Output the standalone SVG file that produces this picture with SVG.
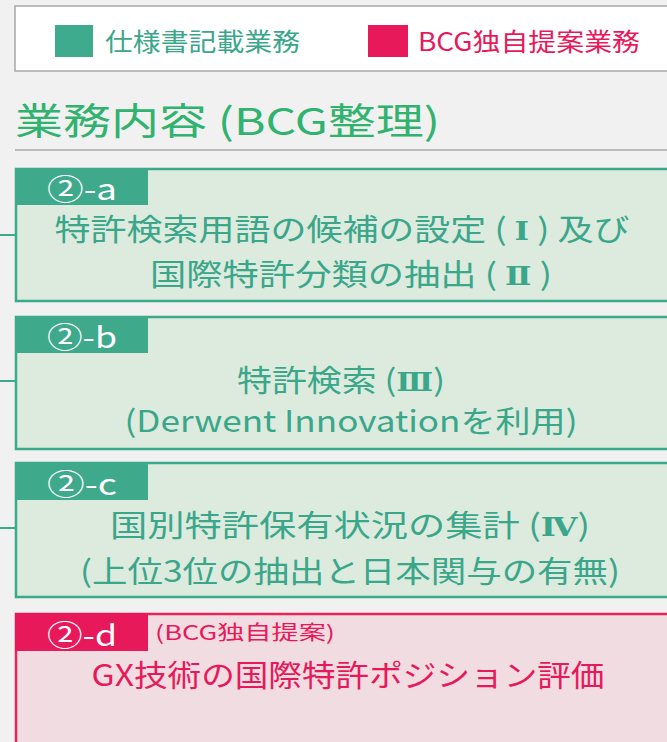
<svg xmlns="http://www.w3.org/2000/svg" width="667" height="742" viewBox="0 0 667 742">
<style>
text{font-family:"Noto Sans CJK JP","Noto Sans",sans-serif;}
.teal{fill:#3aa68a;}
.red{fill:#e8195a;}
.gbox{fill:#dcebde;stroke:#3aaa8a;stroke-width:2.5;}
.rbox{fill:#f1dce2;stroke:#e8245a;stroke-width:2.5;}
.gtab{fill:#3fa98c;}
.rtab{fill:#e8195a;}
.tab{fill:#ffffff;font-size:29px;}
.body{font-size:30px;text-anchor:middle;}
.num{font-family:"DejaVu Serif",serif;font-weight:bold;font-size:26px;}
.conn{stroke:#3aaa8a;stroke-width:2;fill:none;}
</style>
<rect x="0" y="0" width="667" height="742" fill="#f1f1f1"/>
<g id="legend">
<rect x="15" y="6" width="660" height="65" fill="#ffffff" stroke="#a8a8a8" stroke-width="1.5"/>
<rect x="55" y="25" width="38" height="32" fill="#3fab8e"/>
<text x="105" y="51" class="teal" font-size="25" textLength="195" lengthAdjust="spacingAndGlyphs">仕様書記載業務</text>
<rect x="368" y="25" width="40" height="32" fill="#e8195a"/>
<text x="418" y="51" class="red" font-size="25" textLength="222" lengthAdjust="spacingAndGlyphs">BCG独自提案業務</text>
</g>
<g id="title">
<text x="15" y="135" fill="#2fb36e" font-size="37" textLength="425" lengthAdjust="spacingAndGlyphs">業務内容 (BCG整理)</text>
<line x1="15" y1="150" x2="667" y2="150" stroke="#a8a8a8" stroke-width="1.5"/>
</g>
<g id="connectors">
<line class="conn" x1="0" y1="235" x2="15" y2="235"/>
<line class="conn" x1="0" y1="381" x2="15" y2="381"/>
<line class="conn" x1="0" y1="528" x2="15" y2="528"/>
</g>
<g id="node-a">
<rect class="gbox" x="16" y="169" width="660" height="132"/>
<rect class="gtab" x="15" y="168" width="133" height="37"/>
<text class="tab" x="47" y="200" textLength="70" lengthAdjust="spacingAndGlyphs">②-a</text>
<text class="body teal" x="342" y="240" textLength="575" lengthAdjust="spacingAndGlyphs">特許検索用語の候補の設定 ( <tspan class="num">Ⅰ</tspan> ) 及び</text>
<text class="body teal" x="351" y="285" textLength="402" lengthAdjust="spacingAndGlyphs">国際特許分類の抽出 ( <tspan class="num">Ⅱ</tspan> )</text>
</g>
<g id="node-b">
<rect class="gbox" x="16" y="317" width="660" height="132"/>
<rect class="gtab" x="15" y="316" width="133" height="37"/>
<text class="tab" x="47" y="348" textLength="70" lengthAdjust="spacingAndGlyphs">②-b</text>
<text class="body teal" x="341" y="391" textLength="208" lengthAdjust="spacingAndGlyphs">特許検索 (<tspan class="num">Ⅲ</tspan>)</text>
<text class="body teal" x="351" y="432" textLength="453" lengthAdjust="spacingAndGlyphs">(Derwent Innovationを利用)</text>
</g>
<g id="node-c">
<rect class="gbox" x="16" y="463" width="660" height="134"/>
<rect class="gtab" x="15" y="462" width="133" height="38"/>
<text class="tab" x="47" y="495" textLength="70" lengthAdjust="spacingAndGlyphs">②-c</text>
<text class="body teal" x="350" y="536" textLength="480" lengthAdjust="spacingAndGlyphs">国別特許保有状況の集計 (<tspan class="num">Ⅳ</tspan>)</text>
<text class="body teal" x="350" y="582" textLength="540" lengthAdjust="spacingAndGlyphs">(上位3位の抽出と日本関与の有無)</text>
</g>
<g id="node-d">
<rect class="rbox" x="16" y="614" width="660" height="140"/>
<rect class="rtab" x="15" y="613" width="133" height="38"/>
<text class="tab" x="47" y="646" textLength="70" lengthAdjust="spacingAndGlyphs">②-d</text>
<text class="red" x="155" y="640" font-size="20" textLength="180" lengthAdjust="spacingAndGlyphs">(BCG独自提案)</text>
<text class="body red" x="348" y="686" font-size="32" textLength="513" lengthAdjust="spacingAndGlyphs">GX技術の国際特許ポジション評価</text>
</g>
</svg>
